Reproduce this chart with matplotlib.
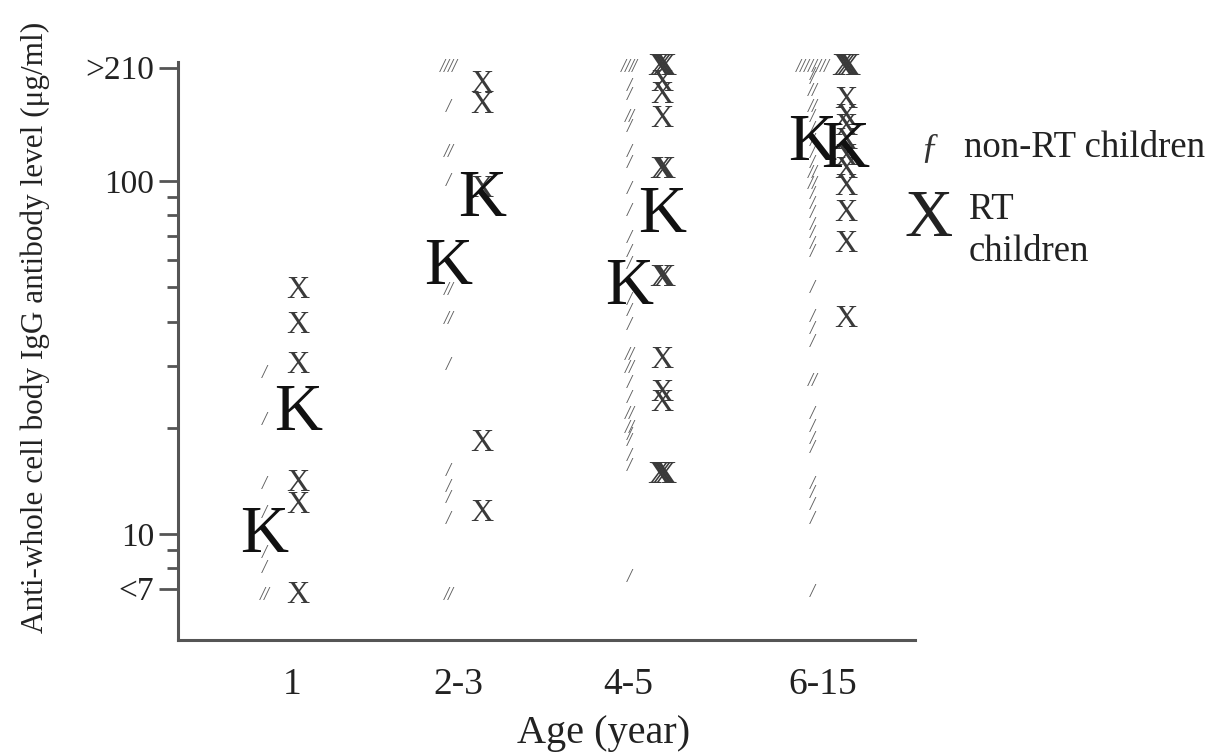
import matplotlib
matplotlib.use("Agg")
import matplotlib.pyplot as plt
from matplotlib.ticker import FixedLocator, NullFormatter

plt.rcParams['font.family'] = ['Liberation Serif', 'DejaVu Serif']

# age groups
ages = ['1', '2-3', '4-5', '6-15']

# antibody levels (ug/ml); "<7" drawn at 6.7, ">210" drawn at 210
nonrt_1 = [28.5, 21, 13.8, 11.4, 8.8, 8.0, 6.7, 6.7]
nonrt_23 = [210, 210, 210, 210, 162, 121, 121, 100, 49, 49, 40.5, 40.5,
            30, 15, 13.5, 12.6, 11, 6.7, 6.7]
nonrt_45 = [210, 210, 210, 210, 186, 175, 152, 152, 142, 121, 112, 95, 82,
            69, 63, 58, 46, 42.7, 39, 32, 32, 29.5, 29.5, 26.7, 24.2, 21.8,
            21.8, 19.9, 19.9, 19, 18.3, 16.6, 15.5, 7.5]
nonrt_615 = [210, 210, 210, 210, 210, 210, 210, 210, 200, 195, 180, 180,
             162, 162, 152, 140, 130, 120, 112, 105, 105, 98, 98, 92, 86,
             81, 75, 71, 66, 63, 49.5, 41, 38, 35, 27, 27, 21.8, 20, 18.5,
             17.5, 13.8, 13, 12, 11, 6.8]

rt_1 = [49, 39, 30, 13.9, 12, 6.7]
rt_23 = [188, 164, 95, 18, 11.4]
rt_45 = [210, 210, 210, 190, 175, 150, 107, 107, 53, 53, 31, 25, 23.5,
         14.6, 14.6, 14.6]
rt_615 = [210, 210, 210, 169, 152, 142, 130, 117, 107, 96, 81, 66, 40.5]

# group means (K symbols)
mean_nonrt = [9.9, 57, 50, 128]
mean_rt = [22, 89, 80, 122]

nonrt = [nonrt_1, nonrt_23, nonrt_45, nonrt_615]
rt = [rt_1, rt_23, rt_45, rt_615]

# layout: where the age labels sit, and how the column pair sits next to them
label_pos = [0, 0.938, 1.898, 3.0]
pair_shift = [-0.062, 0.04, 0.10, 0.034]
half_gap = 0.094

fig = plt.figure(figsize=(12.2, 7.56), dpi=100)
ax = fig.add_axes([0.1459, 0.1534, 0.6041, 0.7646])
ax.set_yscale('log')
ax.set_xlim(-0.644, 3.52)
ax.set_ylim(5.0, 218)


def put_marks(x, values, char, size, color, spread, **kw):
    # repeated values are drawn side by side
    seen = {}
    for v in values:
        seen[v] = seen.get(v, 0) + 1
    for v, n in seen.items():
        for k in range(n):
            dx = (k - (n - 1) / 2) * spread
            ax.annotate(char, (x, v), xytext=(dx, 0), textcoords='offset points',
                        ha='center', va='center', fontsize=size, color=color, **kw)


for i in range(len(ages)):
    xc = label_pos[i] + pair_shift[i]
    put_marks(xc - half_gap, nonrt[i], '/', 13, '#5a5a5a', 2.8, fontstyle='italic')
    put_marks(xc + half_gap, rt[i], 'X', 23, '#3a3a3a', 2.2)
    ax.annotate('K', (xc - half_gap, mean_nonrt[i]), ha='center', va='center',
                fontsize=48, color='#111111')
    ax.annotate('K', (xc + half_gap, mean_rt[i]), ha='center', va='center',
                fontsize=48, color='#111111')

# axes styling
for s in ['top', 'right']:
    ax.spines[s].set_visible(False)
for s in ['left', 'bottom']:
    ax.spines[s].set_color('#555555')
    ax.spines[s].set_linewidth(2.2)

ax.set_xticks(label_pos)
ax.set_xticklabels(ages, fontsize=27, color='#222222')
ax.tick_params(axis='x', length=0, pad=20)

ax.yaxis.set_major_locator(FixedLocator([7, 10, 100, 210]))
ax.set_yticklabels(['<7', '10', '100', '>210'], fontsize=24, color='#222222')
ax.yaxis.set_minor_locator(FixedLocator([8, 9, 20, 30, 40, 50, 60, 70, 80, 90]))
ax.yaxis.set_minor_formatter(NullFormatter())
ax.tick_params(axis='y', which='major', length=14, width=2, color='#555555', pad=3)
ax.tick_params(axis='y', which='minor', length=8, width=2, color='#555555')

fig.text(604 / 1220, 1 - 733 / 756, 'Age (year)', fontsize=29, color='#222222',
         ha='center', va='center')
fig.text(0.029, 1 - 327 / 756, 'Anti-whole cell body IgG antibody level (\u03bcg/ml)',
         rotation=90, ha='center', va='center', fontsize=22.5, color='#222222')

# legend
fig.text(0.762, 0.803, '\u0192', fontsize=26, color='#333333', ha='center',
         va='center', fontstyle='italic')
fig.text(0.790, 0.804, 'non-RT children', fontsize=26.5, color='#222222',
         va='center')
fig.text(0.761, 0.710, 'X', fontsize=48, color='#222222', ha='center',
         va='center')
fig.text(0.794, 0.722, 'RT', fontsize=26.5, color='#222222', va='center')
fig.text(0.794, 0.667, 'children', fontsize=26.5, color='#222222', va='center')

fig.savefig('out.png', dpi=100)
